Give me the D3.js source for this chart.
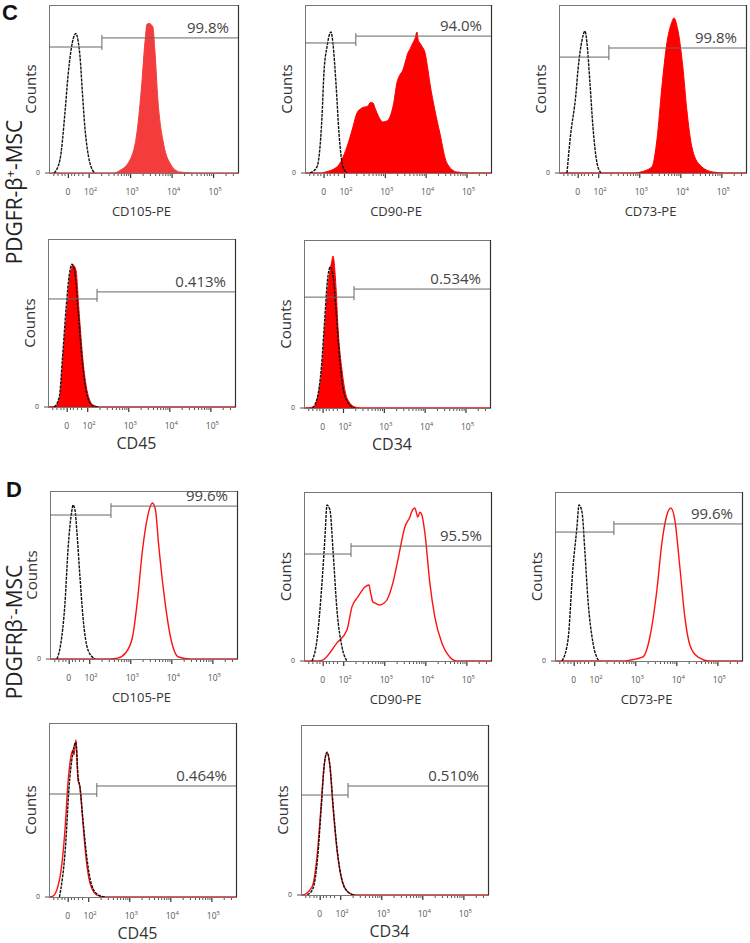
<!DOCTYPE html>
<html><head><meta charset="utf-8">
<script src="https://cdn.jsdelivr.net/npm/d3@7"></script>
<style>body{margin:0;background:#fff}</style></head>
<body>
<svg id="chart" width="750" height="943"></svg>
<script>
// ---------- DATA ----------
// x values in display decades (biexponential axis: "0" sits at 1.5, 10^2 at 2 ...)
const xDomain = [1.045, 5.6];
const yDomain = [0, 100];
const tickValues = [1.5, 2, 3, 4, 5];
const tickBase = ["0", "10", "10", "10", "10"];
const tickExp = ["", "2", "3", "4", "5"];
const minorTicks = [1.15, 1.25, 1.35, 1.42, 1.58, 1.65, 1.75, 1.85,
  2.301, 2.477, 2.602, 2.699, 2.778, 2.845, 2.903, 2.954,
  3.301, 3.477, 3.602, 3.699, 3.778, 3.845, 3.903, 3.954,
  4.301, 4.477, 4.602, 4.699, 4.778, 4.845, 4.903, 4.954, 5.301, 5.477];

const markers = ["CD105-PE", "CD90-PE", "CD73-PE", "CD45", "CD34"];
const pctC = ["99.8%", "94.0%", "99.8%", "0.413%", "0.534%"];
const pctD = ["99.6%", "95.5%", "99.6%", "0.464%", "0.510%"];
const gateC = [2.32, 2.29, 2.26, 2.24, 2.27];
const gateD = [2.53, 2.19, 2.48, 2.21, 2.19];
const gateLevelsC = [[75, 80.4], [77.4, 81.5], [69, 74.4], [64.3, 68.5], [66, 70.8]];
const gateLevelsD = [[85.7, 91], [63.3, 68], [76.3, 81.1], [59.2, 63.8], [58.8, 64.1]];

// PDGFR-beta+ MSC: stained (red filled) and isotype (black dashed)
const stainC1 = [[1.045,0],[2.6,0],[2.754,1.5],[2.995,7.7],[3.163,23.8],[3.283,53.6],[3.356,77.4],[3.411,88.7],[3.46,89],[3.548,86.9],[3.596,73.2],[3.669,43.5],[3.789,19.6],[3.957,6],[4.198,0.6],[4.56,0],[5.6,0]];
const isoC1 = [[1.17,0],[1.31,8],[1.43,36],[1.5,57],[1.575,73],[1.695,83],[1.75,78],[1.79,70],[1.85,48],[1.91,27],[1.97,14],[2.03,6],[2.15,0]];
const stainC2 = [[1.045,0],[1.45,0],[1.534,0.5],[1.828,3.6],[2.072,15.5],[2.219,27.4],[2.317,35.7],[2.439,38.7],[2.586,39.9],[2.65,42],[2.708,41.7],[2.77,38],[2.83,34.5],[2.953,30.4],[3.05,31],[3.124,33.3],[3.22,42],[3.295,53.6],[3.36,58],[3.442,61.3],[3.5,66],[3.564,71.4],[3.62,74],[3.687,77.4],[3.74,80],[3.785,83.9],[3.82,79],[3.858,77.4],[3.92,75],[3.98,72],[4.04,64],[4.103,53.6],[4.225,37.5],[4.347,23.8],[4.518,6],[4.763,0.6],[5.08,0],[5.6,0]];
const isoC2 = [[1.17,0],[1.338,3.6],[1.46,33],[1.51,60],[1.583,75],[1.681,84],[1.73,77],[1.803,53.6],[1.877,23.8],[1.974,3.6],[2.07,0]];
const stainC3 = [[1.045,0],[2.9,0],[3.016,0.5],[3.308,3.6],[3.43,19.6],[3.551,51.2],[3.673,77.4],[3.795,89.9],[3.843,92.3],[3.94,85.1],[4.062,63.1],[4.159,37.5],[4.281,15.5],[4.475,4.8],[4.792,0.6],[5.08,0],[5.6,0]];
const isoC3 = [[1.24,0],[1.313,19.6],[1.459,47.6],[1.507,61.3],[1.605,79],[1.678,84.5],[1.726,77.4],[1.799,53.6],[1.872,27.4],[1.97,6],[2.067,0]];
const stainC4 = [[1.045,0],[1.215,0.5],[1.337,6],[1.41,28],[1.507,57.7],[1.58,77.4],[1.653,84.5],[1.726,81.5],[1.799,57.7],[1.896,28],[1.994,10],[2.14,1.2],[2.31,0],[5.6,0]];
const isoC4 = [[1.2,0],[1.32,6],[1.4,30],[1.49,60],[1.56,78],[1.63,85],[1.7,80],[1.78,57],[1.88,27],[1.98,9],[2.12,1],[2.28,0]];
const stainC5 = [[1.045,0],[1.265,0.5],[1.387,6.5],[1.485,22.6],[1.559,48.2],[1.632,72],[1.73,88],[1.754,90.5],[1.828,72],[1.877,48.2],[1.975,22.6],[2.097,6],[2.293,0.6],[2.45,0],[5.6,0]];
const isoC5 = [[1.25,0],[1.37,6],[1.47,24],[1.55,52],[1.62,76],[1.69,84],[1.76,78],[1.83,58],[1.9,35],[1.98,15],[2.1,4],[2.28,0]];

// PDGFR-beta- MSC: stained (red line) and isotype (black dashed)
const stainD1 = [[1.045,0],[2.5,0],[2.69,0.5],[2.885,3.6],[3.055,13.1],[3.176,35.1],[3.298,64.9],[3.42,84.5],[3.541,92.9],[3.614,88.7],[3.688,69],[3.81,41.1],[3.98,13.1],[4.175,1.2],[4.467,0],[5.6,0]];
const isoD1 = [[1.215,0],[1.3,8],[1.41,33.3],[1.483,64.9],[1.58,88.7],[1.605,91.7],[1.653,88.7],[1.702,75],[1.775,48.8],[1.848,25],[1.97,5.4],[2.14,0]];
const stainD2 = [[1.045,0],[1.4,0],[1.503,0.5],[1.848,10.7],[2.091,18.3],[2.213,32],[2.359,37.9],[2.529,43.8],[2.626,45],[2.67,40],[2.724,34.9],[2.8,34],[2.894,33.1],[2.98,34],[3.064,36.1],[3.21,46.2],[3.332,59.8],[3.502,79.3],[3.624,85.2],[3.68,89],[3.746,90.5],[3.818,85.2],[3.87,88],[3.916,86.4],[3.99,75.7],[4.11,46.2],[4.232,26],[4.403,10.7],[4.597,2.4],[4.767,0],[5.6,0]];
const isoD2 = [[1.24,0],[1.361,12.4],[1.483,46.2],[1.556,73.4],[1.605,92.3],[1.678,89.3],[1.751,65.7],[1.848,30.2],[1.97,8.3],[2.091,0]];
const stainD3 = [[1.045,0],[2.7,0],[2.87,0.5],[3.186,2.4],[3.356,14.2],[3.527,42],[3.648,69.8],[3.77,86.4],[3.867,90.5],[3.964,83.4],[4.086,55.6],[4.208,26],[4.33,9.5],[4.524,2.4],[4.816,0],[5.6,0]];
const isoD3 = [[1.215,0],[1.361,12.4],[1.483,55.6],[1.58,79.3],[1.629,92.3],[1.702,88.2],[1.775,63.9],[1.848,36.1],[1.97,10.7],[2.115,0]];
const stainD4 = [[1.045,0],[1.142,0.5],[1.313,11.5],[1.434,38.5],[1.507,65.5],[1.605,83.3],[1.629,84.5],[1.653,81.6],[1.702,90.2],[1.751,67.2],[1.799,63.2],[1.872,42.5],[1.945,23],[2.043,8],[2.213,1.1],[2.41,0],[5.6,0]];
const isoD4 = [[1.3,0],[1.45,30],[1.53,62],[1.62,82],[1.7,89],[1.75,70],[1.8,63],[1.87,45],[1.95,26],[2.05,10],[2.2,2],[2.4,0]];
const stainD5 = [[1.045,0],[1.07,0],[1.313,4.7],[1.434,22.4],[1.532,51.8],[1.605,75.3],[1.678,83.5],[1.751,75.3],[1.824,51.8],[1.921,26.5],[2.043,8.8],[2.189,1.8],[2.359,0],[5.6,0]];
const isoD5 = [[1.2,0],[1.34,4],[1.45,22],[1.54,52],[1.61,76],[1.68,84],[1.75,76],[1.83,52],[1.93,26],[2.05,8],[2.2,1.5],[2.36,0]];

const stainC = [stainC1, stainC2, stainC3, stainC4, stainC5];
const isoC = [isoC1, isoC2, isoC3, isoC4, isoC5];
const stainD = [stainD1, stainD2, stainD3, stainD4, stainD5];
const isoD = [isoD1, isoD2, isoD3, isoD4, isoD5];

// ---------- LAYOUT ----------
const framesC = [
  {l:49, t:5, w:189, h:168}, {l:305, t:5, w:186, h:168}, {l:559, t:5, w:187, h:168},
  {l:48, t:239, w:187, h:168}, {l:304, t:240, w:186, h:168}];
const framesD = [
  {l:50, t:491, w:187, h:168}, {l:304, t:492, w:187, h:169}, {l:555, t:492, w:187, h:169},
  {l:49, t:723, w:187, h:174}, {l:301, t:725, w:187, h:170}];

const svg = d3.select("#chart");
const FONT = "'Open Sans', 'DejaVu Sans', sans-serif";

function drawPanel(f, marker, pct, gate, levels, stain, iso, filled, redColor) {
  const x = d3.scaleLinear().domain(xDomain).range([f.l, f.l + f.w]);
  const y = d3.scaleLinear().domain(yDomain).range([f.t + f.h, f.t]);
  const g = svg.append("g");
  const bottom = f.t + f.h;

  // x axis ticks
  const ax = g.append("g").attr("transform", `translate(0,${bottom})`);
  ax.call(d3.axisBottom(x).tickValues(minorTicks).tickSize(3).tickFormat(""))
    .call(s => s.select(".domain").remove())
    .call(s => s.selectAll("line").attr("stroke", "#555"));
  const axM = g.append("g").attr("transform", `translate(0,${bottom})`);
  axM.call(d3.axisBottom(x).tickValues(tickValues).tickSize(5).tickFormat(""))
    .call(s => s.select(".domain").remove())
    .call(s => s.selectAll("line").attr("stroke", "#333").attr("stroke-width", 1.2));
  tickValues.forEach((v, i) => {
    const t = g.append("text").attr("x", x(v) + (tickExp[i] ? 2 : 0)).attr("y", bottom + 22)
      .attr("text-anchor", "middle").attr("font-family", FONT).attr("font-size", 8.5).attr("fill", "#555")
      .text(tickBase[i]);
    if (tickExp[i]) t.append("tspan").attr("dy", -4).attr("font-size", 6).text(tickExp[i]);
  });

  // y axis "0"
  g.append("line").attr("x1", f.l - 4).attr("x2", f.l).attr("y1", y(0)).attr("y2", y(0)).attr("stroke", "#555");
  g.append("text").attr("x", f.l - 9).attr("y", y(0) + 2).attr("text-anchor", "end")
    .attr("font-family", FONT).attr("font-size", 7).attr("fill", "#444").text("0");

  // curves
  const line = d3.line().x(d => x(d[0])).y(d => y(d[1])).curve(d3.curveMonotoneX);
  const area = d3.area().x(d => x(d[0])).y0(y(0)).y1(d => y(d[1])).curve(d3.curveMonotoneX);
  if (filled) {
    g.append("path").datum(stain).attr("d", area).attr("fill", redColor).attr("stroke", redColor).attr("stroke-width", 1);
  } else {
    g.append("path").datum(stain).attr("d", line).attr("fill", "none").attr("stroke", redColor).attr("stroke-width", 1.4);
  }
  g.append("path").datum(iso).attr("d", line).attr("fill", "none").attr("stroke", "#111")
    .attr("stroke-width", 1.4).attr("stroke-dasharray", "3,1");

  // frame
  g.append("rect").attr("x", f.l + 0.5).attr("y", f.t + 0.5).attr("width", f.w).attr("height", f.h)
    .attr("fill", "none").attr("stroke", "#777").attr("stroke-width", 1);
  g.append("line").attr("x1", f.l + f.w + 0.5).attr("x2", f.l + f.w + 0.5).attr("y1", f.t).attr("y2", bottom)
    .attr("stroke", "#333").attr("stroke-width", 1.2);

  // gate
  const gx = x(gate), yl = y(levels[0]), yr = y(levels[1]);
  g.append("line").attr("x1", f.l).attr("x2", gx).attr("y1", yl).attr("y2", yl).attr("stroke", "#666").attr("stroke-width", 1);
  g.append("line").attr("x1", gx).attr("x2", f.l + f.w).attr("y1", yr).attr("y2", yr).attr("stroke", "#666").attr("stroke-width", 1);
  g.append("line").attr("x1", gx).attr("x2", gx).attr("y1", yr - 3).attr("y2", yl + 3).attr("stroke", "#666").attr("stroke-width", 1);
  g.append("text").attr("x", f.l + f.w - 9).attr("y", yr - 5).attr("text-anchor", "end")
    .attr("font-family", FONT).attr("font-size", 15).attr("fill", "#444").text(pct);

  // axis labels
  g.append("text").attr("transform", `translate(${f.l - 13},${f.t + f.h / 2}) rotate(-90)`)
    .attr("text-anchor", "middle").attr("font-family", FONT).attr("font-size", 15).attr("fill", "#333").text("Counts");
  const big = !marker.includes("-PE");
  g.append("text").attr("x", f.l + f.w / 2 - (big ? 5 : 2)).attr("y", bottom + (big ? 42 : 43))
    .attr("text-anchor", "middle").attr("font-family", FONT).attr("font-size", big ? 16 : 13).attr("fill", "#333").text(marker);
}

markers.forEach((m, i) => {
  drawPanel(framesC[i], m, pctC[i], gateC[i], gateLevelsC[i], stainC[i], isoC[i], true, i === 0 ? "#f43c3c" : "#ff0000");
  drawPanel(framesD[i], m, pctD[i], gateD[i], gateLevelsD[i], stainD[i], isoD[i], false, "#ff1010");
});

// panel letters
svg.append("text").attr("x", 2).attr("y", 20).attr("font-family", "'Liberation Sans', Arial, sans-serif")
  .attr("font-weight", "bold").attr("font-size", 22).attr("fill", "#111").text("C");
svg.append("text").attr("x", 6).attr("y", 497).attr("font-family", "'Liberation Sans', Arial, sans-serif")
  .attr("font-weight", "bold").attr("font-size", 22).attr("fill", "#111").text("D");

// row-group labels
const lab1 = svg.append("text").attr("transform", "translate(22,192) rotate(-90)").attr("text-anchor", "middle")
  .attr("font-family", FONT).attr("font-size", 21).attr("fill", "#222");
lab1.append("tspan").text("PDGFR-β");
lab1.append("tspan").attr("dy", -7).attr("font-size", 13).text("+");
lab1.append("tspan").attr("dy", 7).text("-MSC");
const lab2 = svg.append("text").attr("transform", "translate(22,632) rotate(-90)").attr("text-anchor", "middle")
  .attr("font-family", FONT).attr("font-size", 21).attr("fill", "#222");
lab2.append("tspan").text("PDGFRβ");
lab2.append("tspan").attr("dy", -7).attr("font-size", 13).text("-");
lab2.append("tspan").attr("dy", 7).text("-MSC");
</script>
</body></html>
